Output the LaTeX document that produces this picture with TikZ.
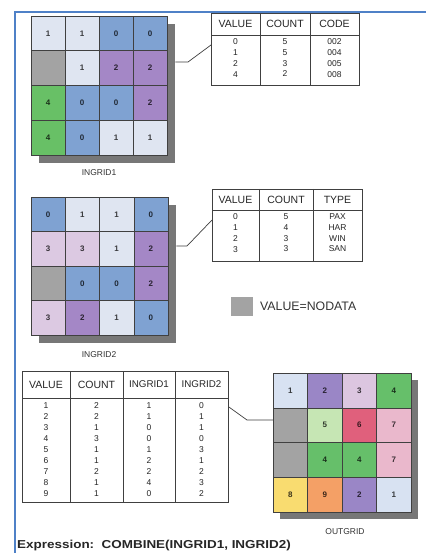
\documentclass[tikz,border=0pt]{standalone}
\usepackage{fontspec}
\setmainfont{Liberation Sans}
\usetikzlibrary{positioning}
\definecolor{frameblue}{HTML}{4F81C7}
\definecolor{cL}{HTML}{DFE5F1}
\definecolor{cB}{HTML}{7FA2D2}
\definecolor{cP}{HTML}{A487C6}
\definecolor{cG}{HTML}{68C066}
\definecolor{cN}{HTML}{A3A3A3}
\definecolor{cK}{HTML}{DCC9E2}
\definecolor{oA}{HTML}{D8E2F2}
\definecolor{oB}{HTML}{9A86C6}
\definecolor{oC}{HTML}{DCC6E0}
\definecolor{oD}{HTML}{66BF6A}
\definecolor{oE}{HTML}{C6E6B4}
\definecolor{oF}{HTML}{E0607C}
\definecolor{oG}{HTML}{EAB8CC}
\definecolor{oH}{HTML}{F9DC70}
\definecolor{oI}{HTML}{F4A066}
\definecolor{shadowgray}{HTML}{777777}
\definecolor{linegray}{HTML}{404040}
\begin{document}
\begin{tikzpicture}[x=1pt,y=-1pt,
  cell/.style={draw=linegray, line width=0.5pt, inner sep=0pt, font=\fontsize{8}{9}\selectfont\bfseries},
  shadowbox/.style={fill=shadowgray, draw=none, inner sep=0pt, anchor=north west},
  tbl/.style={draw=linegray, line width=0.9pt, inner sep=0pt, anchor=north west, fill=white},
  hdr/.style={font=\fontsize{10.5}{11}\selectfont, text=black!85, inner sep=0pt},
  dat/.style={font=\fontsize{8.5}{10.8}\selectfont, text=black!85, align=center, inner sep=0pt, anchor=north},
  lbl/.style={font=\fontsize{8.5}{10}\selectfont, text=black!80, inner sep=0pt},
  conn/.style={draw=linegray, line width=0.7pt},
  tline/.style={draw=linegray, line width=0.8pt}]
\useasboundingbox[fill=white] (0,0) rectangle (426,553);
\draw[frameblue, line width=2.4pt] (15,553) -- (15,12) -- (426,12);

% ---------------- INGRID1 ----------------
\node[shadowbox, minimum width=136pt, minimum height=139pt] (sh1) at (39,24) {};
\foreach \r/\c/\v/\f in {1/1/1/cL,1/2/1/cL,1/3/0/cB,1/4/0/cB,
  2/1//cN,2/2/1/cL,2/3/2/cP,2/4/2/cP,
  3/1/4/cG,3/2/0/cB,3/3/0/cB,3/4/2/cP,
  4/1/4/cG,4/2/0/cB,4/3/1/cL,4/4/1/cL}
  \node[cell, fill=\f, text=\f!25!black, minimum width=34pt, minimum height=34.75pt]
    (ga-\r-\c) at ({31+(\c-0.5)*34},{16+(\r-0.5)*34.75}) {\v};
\node[lbl] (lab1) at (99,173) {INGRID1};

% table 1
\node[tbl, minimum width=148pt, minimum height=72pt] (t1) at (211,13) {};
\draw[tline] (211,35) -- (359,35);
\draw[tline] (260,13) -- (260,85);
\draw[tline] (310,13) -- (310,85);
\node[hdr] (t1h1) at (235.5,24) {VALUE};
\node[hdr] (t1h2) at (285,24) {COUNT};
\node[hdr] (t1h3) at (334.5,24) {CODE};
\node[dat] (t1c1) at (235.5,38.5) {0\\1\\2\\4};
\node[dat] (t1c2) at (285,38.5) {5\\5\\3\\2};
\node[dat] (t1c3) at (334.5,38.5) {002\\004\\005\\008};
\coordinate (k1a) at (188,62);
\coordinate (k1b) at (211,45);
\draw[conn] (sh1.east |- k1a) -- (k1a) -- (t1.west |- k1b);

% ---------------- INGRID2 ----------------
\node[shadowbox, minimum width=137pt, minimum height=138pt] (sh2) at (39,205) {};
\foreach \r/\c/\v/\f in {1/1/0/cB,1/2/1/cL,1/3/1/cL,1/4/0/cB,
  2/1/3/cK,2/2/3/cK,2/3/1/cL,2/4/2/cP,
  3/1//cN,3/2/0/cB,3/3/0/cB,3/4/2/cP,
  4/1/3/cK,4/2/2/cP,4/3/1/cL,4/4/0/cB}
  \node[cell, fill=\f, text=\f!25!black, minimum width=34.25pt, minimum height=34.5pt]
    (gb-\r-\c) at ({31+(\c-0.5)*34.25},{197+(\r-0.5)*34.5}) {\v};
\node[lbl] (lab2) at (99,355) {INGRID2};

% table 2
\node[tbl, minimum width=150pt, minimum height=72pt] (t2) at (212,189) {};
\draw[tline] (212,210) -- (362,210);
\draw[tline] (259,189) -- (259,261);
\draw[tline] (313,189) -- (313,261);
\node[hdr] (t2h1) at (235.5,199.5) {VALUE};
\node[hdr] (t2h2) at (286,199.5) {COUNT};
\node[hdr] (t2h3) at (337.5,199.5) {TYPE};
\node[dat] (t2c1) at (235.5,213.5) {0\\1\\2\\3};
\node[dat] (t2c2) at (286,213.5) {5\\4\\3\\3};
\node[dat] (t2c3) at (337.5,213.5) {PAX\\HAR\\WIN\\SAN};
\coordinate (k2a) at (187,246);
\coordinate (k2b) at (212,220);
\draw[conn] (sh2.east |- k2a) -- (k2a) -- (t2.west |- k2b);

% legend
\node[fill=cN, inner sep=0pt, minimum width=22pt, minimum height=19pt, anchor=north west] (leg) at (231,297) {};
\node[font=\fontsize{12.3}{14}\selectfont, text=black!80, inner sep=0pt, anchor=west] (legt) at (260,306.5) {VALUE=NODATA};

% ---------------- table 3 ----------------
\node[tbl, minimum width=206pt, minimum height=131pt] (t3) at (22,371) {};
\draw[tline] (22,398) -- (228,398);
\draw[tline] (70,371) -- (70,502);
\draw[tline] (123,371) -- (123,502);
\draw[tline] (175,371) -- (175,502);
\node[hdr] (t3h1) at (46,384.5) {VALUE};
\node[hdr] (t3h2) at (96.5,384.5) {COUNT};
\node[hdr, font=\fontsize{9.8}{11}\selectfont] (t3h3) at (149,384.5) {INGRID1};
\node[hdr, font=\fontsize{9.8}{11}\selectfont] (t3h4) at (201.5,384.5) {INGRID2};
\node[dat, font=\fontsize{8.5}{11}\selectfont] (t3c1) at (46,402) {1\\2\\3\\4\\5\\6\\7\\8\\9};
\node[dat, font=\fontsize{8.5}{11}\selectfont] (t3c2) at (96.5,402) {2\\2\\1\\3\\1\\1\\2\\1\\1};
\node[dat, font=\fontsize{8.5}{11}\selectfont] (t3c3) at (149,402) {1\\1\\0\\0\\1\\2\\2\\4\\0};
\node[dat, font=\fontsize{8.5}{11}\selectfont] (t3c4) at (201.5,402) {0\\1\\1\\0\\3\\1\\2\\3\\2};

% ---------------- OUTGRID ----------------
\node[shadowbox, minimum width=138pt, minimum height=139pt] (sh3) at (280,380) {};
\foreach \r/\c/\v/\f in {1/1/1/oA,1/2/2/oB,1/3/3/oC,1/4/4/oD,
  2/1//cN,2/2/5/oE,2/3/6/oF,2/4/7/oG,
  3/1//cN,3/2/4/oD,3/3/4/oD,3/4/7/oG,
  4/1/8/oH,4/2/9/oI,4/3/2/oB,4/4/1/oA}
  \node[cell, fill=\f, text=\f!25!black, minimum width=34.5pt, minimum height=34.75pt]
    (gc-\r-\c) at ({273+(\c-0.5)*34.5},{373+(\r-0.5)*34.75}) {\v};
\node[lbl] (lab3) at (345,532) {OUTGRID};
\coordinate (k3a) at (228,407);
\coordinate (k3b) at (247,420);
\draw[conn] (t3.east |- k3a) -- (k3b) -- (gc-2-1.west |- k3b);

% expression
\node[anchor=west, inner sep=0pt, text=black!85] (expr) at (17,545.5)
  {\scalebox{1.17}[1]{\fontsize{11.5}{13}\selectfont\bfseries Expression:\ \ COMBINE(INGRID1, INGRID2)}};
\end{tikzpicture}
\end{document}
